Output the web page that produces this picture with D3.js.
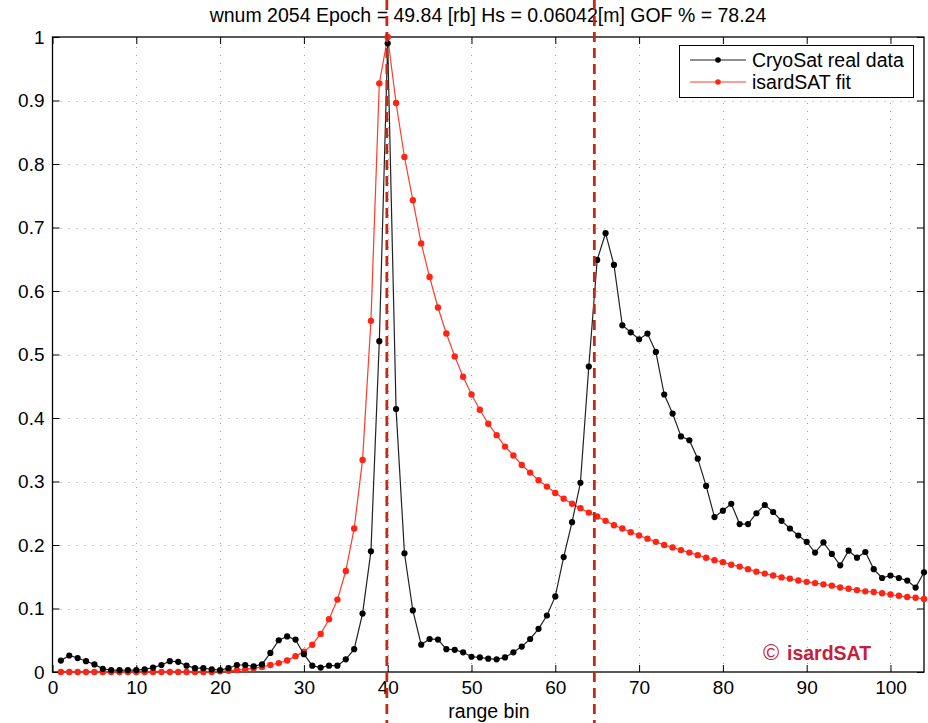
<!DOCTYPE html>
<html>
<head>
<meta charset="utf-8">
<script src="https://cdn.jsdelivr.net/npm/d3@7"></script>
<style>
  html, body { margin: 0; padding: 0; background: #fff; }
  svg { display: block; font-family: "Liberation Sans", Arial, Helvetica, sans-serif; }
</style>
</head>
<body>
<svg id="chart" width="928" height="723"></svg>
<script>
// Range bins 1..104
const bins = d3.range(1, 105);

// CryoSat measured waveform (normalised power per range bin)
const cryosat = [
  0.018, 0.026, 0.022, 0.017, 0.012, 0.005, 0.003, 0.003, 0.003, 0.003,
  0.004, 0.007, 0.011, 0.017, 0.016, 0.010, 0.006, 0.006, 0.004, 0.003,
  0.006, 0.011, 0.011, 0.009, 0.012, 0.030, 0.050, 0.056, 0.051, 0.028,
  0.010, 0.007, 0.010, 0.010, 0.020, 0.036, 0.092, 0.190, 0.521, 0.990,
  0.414, 0.187, 0.097, 0.043, 0.052, 0.051, 0.036, 0.035, 0.031, 0.024,
  0.023, 0.021, 0.020, 0.023, 0.031, 0.040, 0.052, 0.068, 0.089, 0.119,
  0.181, 0.236, 0.298, 0.481, 0.649, 0.691, 0.641, 0.546, 0.535, 0.524,
  0.533, 0.504, 0.437, 0.407, 0.371, 0.365, 0.336, 0.293, 0.244, 0.254,
  0.265, 0.233, 0.233, 0.250, 0.263, 0.252, 0.238, 0.226, 0.215, 0.205,
  0.188, 0.204, 0.186, 0.168, 0.191, 0.180, 0.189, 0.162, 0.148, 0.152,
  0.148, 0.144, 0.133, 0.157
];

// isardSAT model fit
const fit = [
  0.000, 0.000, 0.000, 0.000, 0.000, 0.000, 0.000, 0.000, 0.000, 0.000,
  0.000, 0.000, 0.000, 0.000, 0.000, 0.000, 0.000, 0.000, 0.000, 0.001,
  0.002, 0.003, 0.004, 0.006, 0.008, 0.011, 0.014, 0.018, 0.025, 0.032,
  0.043, 0.060, 0.083, 0.114, 0.159, 0.226, 0.334, 0.553, 0.927, 1.000,
  0.896, 0.811, 0.743, 0.675, 0.622, 0.574, 0.533, 0.497, 0.465, 0.437,
  0.413, 0.391, 0.373, 0.355, 0.341, 0.326, 0.314, 0.302, 0.292, 0.282,
  0.273, 0.265, 0.258, 0.251, 0.245, 0.238, 0.231, 0.226, 0.220, 0.215,
  0.210, 0.205, 0.200, 0.196, 0.192, 0.188, 0.184, 0.180, 0.176, 0.173,
  0.169, 0.166, 0.162, 0.158, 0.155, 0.152, 0.149, 0.147, 0.144, 0.142,
  0.140, 0.138, 0.136, 0.133, 0.131, 0.129, 0.127, 0.126, 0.124, 0.122,
  0.120, 0.118, 0.117, 0.115
];

// Retracked gate positions (vertical markers)
const markers = [39.9, 64.66];

const xTicks = [0, 10, 20, 30, 40, 50, 60, 70, 80, 90, 100];
const yTicks = [0, 0.1, 0.2, 0.3, 0.4, 0.5, 0.6, 0.7, 0.8, 0.9, 1];

const titleText = "wnum 2054 Epoch = 49.84 [rb] Hs = 0.06042[m] GOF % = 78.24";
const xLabel = "range bin";
const seriesNames = ["CryoSat real data", "isardSAT fit"];

const W = 928, H = 723;
const m = { left: 52.5, right: 924, top: 37, bottom: 672 };
const FS = 19;

const svg = d3.select("#chart");
const x = d3.scaleLinear().domain([0, 104]).range([m.left, m.right]);
const y = d3.scaleLinear().domain([0, 1]).range([m.bottom, m.top]);

// Dotted grid
const grid = svg.append("g").attr("stroke", "#a0a0a0").attr("stroke-width", 1)
  .attr("stroke-dasharray", "1,7");
grid.selectAll("line.vx").data(xTicks.filter(d => d > 0)).join("line")
  .attr("x1", d => Math.round(x(d)) + 0.5).attr("x2", d => Math.round(x(d)) + 0.5)
  .attr("y1", m.bottom).attr("y2", m.top);
grid.selectAll("line.hy").data(yTicks.filter(d => d > 0 && d < 1)).join("line")
  .attr("y1", d => Math.round(y(d)) + 0.5).attr("y2", d => Math.round(y(d)) + 0.5)
  .attr("x1", m.left).attr("x2", m.right);

// Axes (ticks drawn inward, mirrored on top and right)
function styleAxis(g) {
  g.select(".domain").remove();
  g.selectAll(".tick line").attr("stroke", "#000").attr("stroke-width", 1);
  g.selectAll(".tick text").attr("font-size", FS).attr("fill", "#000")
    .attr("font-family", "Liberation Sans, Arial, sans-serif");
}
svg.append("g").attr("transform", `translate(0,${m.bottom})`)
  .call(d3.axisBottom(x).tickValues(xTicks).tickSize(-7).tickPadding(9).tickFormat(d3.format("d")))
  .call(styleAxis);
svg.append("g").attr("transform", `translate(0,${m.top})`)
  .call(d3.axisTop(x).tickValues(xTicks).tickSize(-7).tickFormat(""))
  .call(styleAxis);
svg.append("g").attr("transform", `translate(${m.left},0)`)
  .call(d3.axisLeft(y).tickValues(yTicks).tickSize(-7).tickPadding(8).tickFormat(d => d === 0 || d === 1 ? d3.format("d")(d) : d3.format(".1f")(d)))
  .call(styleAxis);
svg.append("g").attr("transform", `translate(${m.right},0)`)
  .call(d3.axisRight(y).tickValues(yTicks).tickSize(-7).tickFormat(""))
  .call(styleAxis);

// Plot frame
svg.append("rect")
  .attr("x", m.left).attr("y", m.top)
  .attr("width", m.right - m.left).attr("height", m.bottom - m.top)
  .attr("fill", "none").attr("stroke", "#000").attr("stroke-width", 1.3);

// Clip region for the data
svg.append("clipPath").attr("id", "plotclip").append("rect")
  .attr("x", m.left - 4).attr("y", m.top - 4)
  .attr("width", m.right - m.left + 8).attr("height", m.bottom - m.top + 8);

const line = d3.line().x(d => x(d[0])).y(d => y(d[1]));
const data = g => g.append("g").attr("clip-path", "url(#plotclip)");

const fitPts = bins.map((b, i) => [b, fit[i]]);
const cryoPts = bins.map((b, i) => [b, cryosat[i]]);

const gFit = data(svg);
gFit.append("path").datum(fitPts).attr("d", line)
  .attr("fill", "none").attr("stroke", "#ff3b2a").attr("stroke-width", 1.2);
gFit.selectAll("circle").data(fitPts).join("circle")
  .attr("cx", d => x(d[0])).attr("cy", d => y(d[1])).attr("r", 3.2).attr("fill", "#ff2414");

const gCryo = data(svg);
gCryo.append("path").datum(cryoPts).attr("d", line)
  .attr("fill", "none").attr("stroke", "#222").attr("stroke-width", 1.2);
gCryo.selectAll("circle").data(cryoPts).join("circle")
  .attr("cx", d => x(d[0])).attr("cy", d => y(d[1])).attr("r", 3.1).attr("fill", "#000");

// Title
svg.append("text").attr("x", 488).attr("y", 22).attr("text-anchor", "middle")
  .attr("font-size", 19.5).attr("fill", "#000").text(titleText);

// X label
svg.append("text").attr("x", 489).attr("y", 718).attr("text-anchor", "middle")
  .attr("font-size", 19.5).attr("fill", "#000").text(xLabel);

// Vertical gate markers spanning the whole figure, with soft halo
const defs = svg.append("defs");
defs.append("filter").attr("id", "halo").attr("x", "-5").attr("width", "11")
  .append("feGaussianBlur").attr("stdDeviation", 1.6);
svg.selectAll("line.halo").data(markers).join("line")
  .attr("x1", d => x(d)).attr("x2", d => x(d)).attr("y1", 0).attr("y2", H)
  .attr("stroke", "#bbb").attr("stroke-width", 6).attr("stroke-opacity", 0.55)
  .attr("filter", "url(#halo)");
svg.selectAll("line.marker").data(markers).join("line")
  .attr("x1", d => x(d)).attr("x2", d => x(d)).attr("y1", 0).attr("y2", H)
  .attr("stroke", "#c22a17").attr("stroke-width", 2.8).attr("stroke-dasharray", "10,6");

// Legend
const lg = svg.append("g");
lg.append("rect").attr("x", 679.5).attr("y", 45.5).attr("width", 234).attr("height", 52)
  .attr("fill", "#fff").attr("stroke", "#000").attr("stroke-width", 1);
const legendColors = [["#222", "#000"], ["#ff3b2a", "#ff2414"]];
seriesNames.forEach((name, i) => {
  const yy = 60 + i * 22;
  lg.append("line").attr("x1", 690).attr("x2", 746).attr("y1", yy).attr("y2", yy)
    .attr("stroke", legendColors[i][0]).attr("stroke-width", 1.2);
  lg.append("circle").attr("cx", 718).attr("cy", yy).attr("r", 2.8).attr("fill", legendColors[i][1]);
  lg.append("text").attr("x", 752).attr("y", yy + 6.5).attr("font-size", 19.5)
    .attr("fill", "#000").text(name);
});

// Watermark
const wm = svg.append("g").attr("fill", "#c4203c");
wm.append("text").attr("x", 763).attr("y", 660).attr("font-size", 22).text("©");
wm.append("text").attr("x", 787).attr("y", 660).attr("font-size", 19.5)
  .attr("font-weight", "bold").text("isardSAT");
</script>
</body>
</html>
